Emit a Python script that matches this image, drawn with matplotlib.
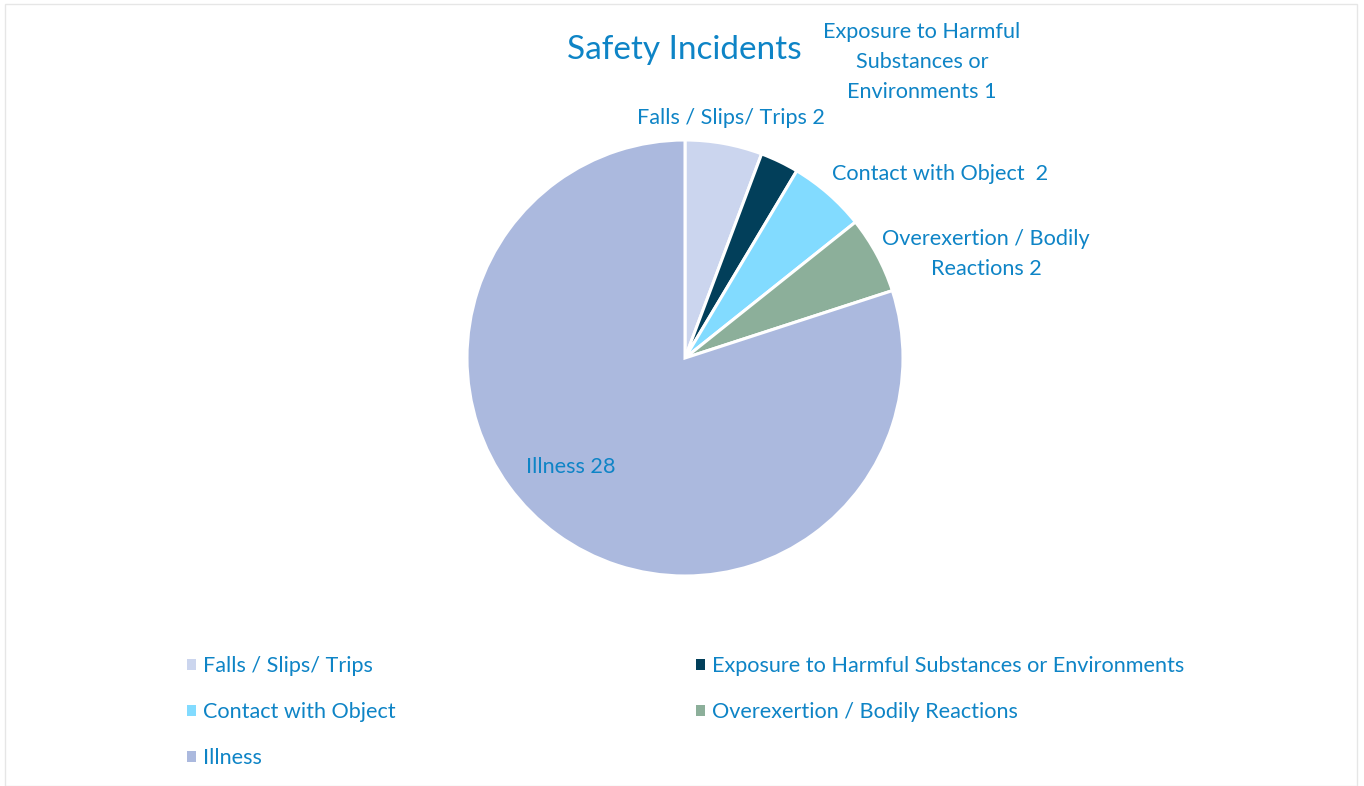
import matplotlib.pyplot as plt
from matplotlib.patches import Rectangle

# data
categories = ['Falls / Slips/ Trips', 'Exposure to Harmful Substances or Environments',
              'Contact with Object', 'Overexertion / Bodily Reactions', 'Illness']
counts = [2, 1, 2, 2, 28]
colors = ['#CBD5EE', '#023F5A', '#82DBFF', '#8CAF9A', '#ABB9DE']
label_texts = ['Falls / Slips/ Trips 2', 'Exposure to Harmful\nSubstances or\nEnvironments 1',
               'Contact with Object  2', 'Overexertion / Bodily\nReactions 2', 'Illness 28']
# label centres in pixels (x, y from top)
label_pos = [(731, 118), (922, 62), (940, 174), (986, 254), (571, 467)]

W, H = 1364, 786
txt_color = '#0E84C6'
fs = 15.6
plt.rcParams['font.family'] = ['Lato', 'DejaVu Sans']

fig = plt.figure(figsize=(W / 100, H / 100), dpi=100)
fig.patches.append(Rectangle((5 / W, 0), 1352 / W, 782 / H, transform=fig.transFigure,
                             fill=False, edgecolor='#E6E6E6', linewidth=1))

# pie axes: centre (685, 358), radius 218 px
cx, cy, r = 685, 358, 218
ax = fig.add_axes([(cx - r) / W, (H - cy - r) / H, 2 * r / W, 2 * r / H])
wedges, _ = ax.pie(counts, colors=colors, startangle=90, counterclock=False,
                   radius=1.0, wedgeprops=dict(edgecolor='white', linewidth=2.2))
ax.set_xlim(-1, 1)
ax.set_ylim(-1, 1)
ax.set_aspect('equal')
ax.axis('off')

for t, (px, py) in zip(label_texts, label_pos):
    fig.text(px / W, 1 - py / H, t, ha='center', va='center', color=txt_color,
             fontsize=fs, linespacing=1.62)

fig.text(684 / W, 1 - 50 / H, 'Safety Incidents', ha='center', va='center',
         color=txt_color, fontsize=24)

# legend: column 1 = Falls, Contact, Illness; column 2 = Exposure, Overexertion
order = [0, 2, 4, 1, 3]
leg = fig.legend([wedges[i] for i in order], [categories[i] for i in order],
                 ncol=2, loc='upper left', bbox_to_anchor=(187 / W, 1 - 656 / H),
                 borderaxespad=0, borderpad=0,
                 frameon=False, fontsize=fs, handlelength=0.42, handleheight=0.42,
                 handletextpad=0.3, labelspacing=1.2, columnspacing=13.9,
                 labelcolor=txt_color)
for h in leg.legend_handles:
    h.set_edgecolor('none')

fig.savefig('out.png', dpi=100, facecolor='white')
